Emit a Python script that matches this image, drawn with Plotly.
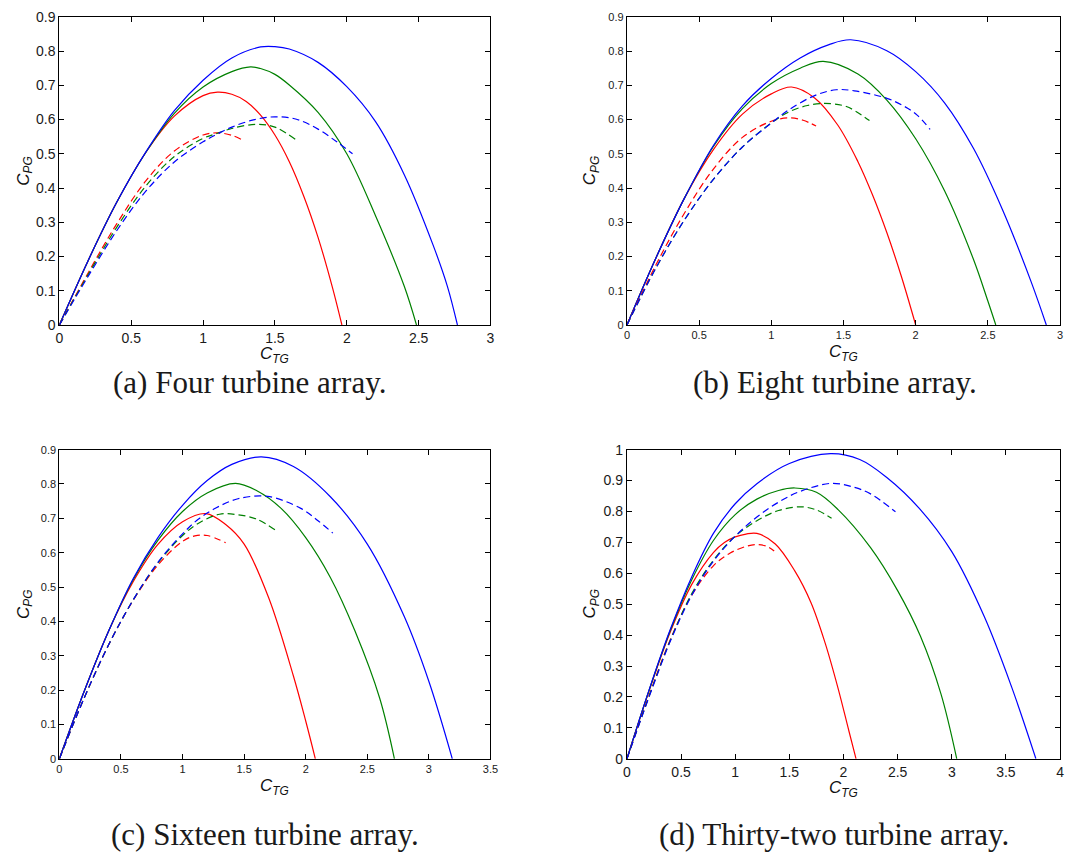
import plotly.graph_objects as go

W, H = 1072, 862

RED = "#ff0000"
GREEN = "#008000"
BLUE = "#0000ff"

# ---- (a) four turbine array ----
a_red_x = [0, 0.2, 0.4, 0.6, 0.8, 1.0, 1.1, 1.2, 1.3, 1.4, 1.5, 1.6, 1.7, 1.8, 1.9, 1.966]
a_red_y = [0, 0.188, 0.359, 0.503, 0.610, 0.670, 0.680, 0.674, 0.653, 0.613, 0.555, 0.477, 0.377, 0.256, 0.110, 0]
a_green_x = [0, 0.2, 0.4, 0.6, 0.8, 1.0, 1.2, 1.33, 1.4, 1.5, 1.6, 1.8, 2.0, 2.2, 2.4, 2.485]
a_green_y = [0, 0.188, 0.359, 0.503, 0.618, 0.695, 0.740, 0.754, 0.749, 0.732, 0.701, 0.621, 0.500, 0.319, 0.113, 0]
a_blue_x = [0, 0.2, 0.4, 0.6, 0.8, 1.0, 1.2, 1.4, 1.5, 1.6, 1.8, 2.0, 2.2, 2.4, 2.6, 2.7, 2.77]
a_blue_y = [0, 0.188, 0.359, 0.504, 0.626, 0.715, 0.780, 0.812, 0.813, 0.806, 0.767, 0.696, 0.594, 0.439, 0.234, 0.113, 0]
a_red_dash_x = [0, 0.2, 0.4, 0.6, 0.8, 1.0, 1.1, 1.2, 1.29]
a_red_dash_y = [0, 0.152, 0.296, 0.420, 0.508, 0.555, 0.561, 0.554, 0.537]
a_green_dash_x = [0, 0.2, 0.4, 0.6, 0.8, 1.0, 1.1, 1.2, 1.37, 1.5, 1.65]
a_green_dash_y = [0, 0.147, 0.286, 0.405, 0.492, 0.545, 0.560, 0.574, 0.586, 0.578, 0.540]
a_blue_dash_x = [0, 0.2, 0.4, 0.6, 0.8, 1.0, 1.1, 1.2, 1.35, 1.5, 1.65, 1.8, 1.93, 2.04]
a_blue_dash_y = [0, 0.142, 0.276, 0.390, 0.476, 0.535, 0.558, 0.578, 0.599, 0.608, 0.601, 0.572, 0.535, 0.500]

# ---- (b) eight turbine array ----
b_red_x = [0, 0.2, 0.4, 0.6, 0.8, 1.0, 1.14, 1.3, 1.46, 1.6, 1.7, 1.8, 1.9, 2.0]
b_red_y = [0, 0.195, 0.372, 0.513, 0.616, 0.675, 0.695, 0.663, 0.584, 0.477, 0.381, 0.270, 0.143, 0]
b_green_x = [0, 0.2, 0.4, 0.6, 0.8, 1.0, 1.2, 1.36, 1.6, 1.8, 2.0, 2.2, 2.4, 2.5, 2.555]
b_green_y = [0, 0.195, 0.372, 0.522, 0.632, 0.705, 0.750, 0.770, 0.733, 0.657, 0.544, 0.392, 0.192, 0.070, 0]
b_blue_x = [0, 0.2, 0.4, 0.6, 0.8, 1.0, 1.2, 1.4, 1.55, 1.8, 2.0, 2.2, 2.4, 2.6, 2.8, 2.905]
b_blue_y = [0, 0.195, 0.372, 0.525, 0.640, 0.720, 0.780, 0.819, 0.833, 0.801, 0.740, 0.649, 0.516, 0.338, 0.126, 0]
b_red_dash_x = [0, 0.2, 0.4, 0.6, 0.8, 1.0, 1.13, 1.22, 1.31]
b_red_dash_y = [0, 0.175, 0.328, 0.456, 0.548, 0.595, 0.605, 0.598, 0.581]
b_green_dash_x = [0, 0.2, 0.4, 0.6, 0.8, 1.0, 1.12, 1.25, 1.37, 1.52, 1.68]
b_green_dash_y = [0, 0.166, 0.308, 0.426, 0.520, 0.590, 0.622, 0.641, 0.647, 0.638, 0.597]
b_blue_dash_x = [0, 0.2, 0.4, 0.6, 0.8, 1.0, 1.12, 1.3, 1.45, 1.575, 1.8, 1.92, 2.01, 2.1]
b_blue_dash_y = [0, 0.166, 0.308, 0.426, 0.520, 0.590, 0.628, 0.670, 0.687, 0.684, 0.662, 0.639, 0.613, 0.571]

# ---- (c) sixteen turbine array ----
c_red_x = [0, 0.2, 0.4, 0.6, 0.8, 1.0, 1.19, 1.35, 1.5, 1.7, 1.9, 2.0, 2.078]
c_red_y = [0, 0.195, 0.372, 0.516, 0.624, 0.690, 0.714, 0.682, 0.625, 0.468, 0.241, 0.110, 0]
c_green_x = [0, 0.2, 0.4, 0.6, 0.8, 1.0, 1.2, 1.43, 1.6, 1.8, 2.0, 2.2, 2.4, 2.6, 2.72]
c_green_y = [0, 0.195, 0.372, 0.522, 0.636, 0.720, 0.774, 0.802, 0.781, 0.729, 0.644, 0.528, 0.372, 0.177, 0]
c_blue_x = [0, 0.2, 0.4, 0.6, 0.8, 1.0, 1.2, 1.4, 1.64, 1.9, 2.2, 2.5, 2.8, 3.0, 3.19]
c_blue_y = [0, 0.195, 0.372, 0.525, 0.644, 0.738, 0.810, 0.857, 0.879, 0.851, 0.763, 0.625, 0.414, 0.225, 0]
c_red_dash_x = [0, 0.2, 0.4, 0.6, 0.8, 1.0, 1.1, 1.2, 1.35]
c_red_dash_y = [0, 0.176, 0.332, 0.462, 0.564, 0.633, 0.649, 0.650, 0.629]
c_green_dash_x = [0, 0.2, 0.4, 0.6, 0.8, 1.0, 1.13, 1.3, 1.44, 1.6, 1.75]
c_green_dash_y = [0, 0.176, 0.332, 0.463, 0.570, 0.650, 0.686, 0.712, 0.711, 0.698, 0.667]
c_blue_dash_x = [0, 0.2, 0.4, 0.6, 0.8, 1.0, 1.13, 1.27, 1.45, 1.69, 1.96, 2.1, 2.22]
c_blue_dash_y = [0, 0.176, 0.332, 0.463, 0.572, 0.655, 0.698, 0.730, 0.757, 0.764, 0.729, 0.693, 0.657]

# ---- (d) thirty-two turbine array ----
d_red_x = [0, 0.2, 0.4, 0.6, 0.8, 0.9, 1.0, 1.1, 1.2, 1.37, 1.55, 1.7, 1.83, 1.95, 2.05, 2.116]
d_red_y = [0, 0.215, 0.410, 0.565, 0.668, 0.700, 0.718, 0.727, 0.729, 0.695, 0.608, 0.505, 0.375, 0.228, 0.090, 0]
d_green_x = [0, 0.2, 0.4, 0.6, 0.8, 1.0, 1.2, 1.4, 1.55, 1.75, 1.95, 2.25, 2.5, 2.71, 2.9, 3.046]
d_green_y = [0, 0.217, 0.415, 0.580, 0.707, 0.790, 0.840, 0.868, 0.876, 0.862, 0.806, 0.683, 0.544, 0.397, 0.210, 0]
d_blue_x = [0, 0.2, 0.4, 0.6, 0.8, 1.0, 1.2, 1.5, 1.88, 2.15, 2.4, 2.7, 3.0, 3.3, 3.55, 3.777]
d_blue_y = [0, 0.218, 0.418, 0.590, 0.730, 0.825, 0.890, 0.955, 0.987, 0.968, 0.910, 0.810, 0.670, 0.460, 0.235, 0]
d_red_dash_x = [0, 0.2, 0.4, 0.6, 0.8, 0.95, 1.1, 1.21, 1.3, 1.36]
d_red_dash_y = [0, 0.200, 0.385, 0.530, 0.625, 0.665, 0.687, 0.693, 0.686, 0.672]
d_green_dash_x = [0, 0.2, 0.4, 0.6, 0.8, 1.0, 1.2, 1.4, 1.61, 1.75, 1.89]
d_green_dash_y = [0, 0.198, 0.383, 0.535, 0.643, 0.720, 0.770, 0.803, 0.815, 0.805, 0.778]
d_blue_dash_x = [0, 0.2, 0.4, 0.6, 0.8, 1.0, 1.2, 1.4, 1.6, 1.89, 2.1, 2.25, 2.48]
d_blue_dash_y = [0, 0.196, 0.380, 0.530, 0.640, 0.720, 0.782, 0.830, 0.865, 0.891, 0.878, 0.857, 0.799]

captions = [
    "(a) Four turbine array.",
    "(b) Eight turbine array.",
    "(c) Sixteen turbine array.",
    "(d) Thirty-two turbine array.",
]
x_ranges = [3, 3, 3.5, 4]
y_ranges = [0.9, 0.9, 0.9, 1.0]

panel_curves = [
    [(a_red_x, a_red_y, RED, "solid"), (a_green_x, a_green_y, GREEN, "solid"), (a_blue_x, a_blue_y, BLUE, "solid"),
     (a_red_dash_x, a_red_dash_y, RED, "dash"), (a_green_dash_x, a_green_dash_y, GREEN, "dash"),
     (a_blue_dash_x, a_blue_dash_y, BLUE, "dash")],
    [(b_red_x, b_red_y, RED, "solid"), (b_green_x, b_green_y, GREEN, "solid"), (b_blue_x, b_blue_y, BLUE, "solid"),
     (b_red_dash_x, b_red_dash_y, RED, "dash"), (b_green_dash_x, b_green_dash_y, GREEN, "dash"),
     (b_blue_dash_x, b_blue_dash_y, BLUE, "dash")],
    [(c_red_x, c_red_y, RED, "solid"), (c_green_x, c_green_y, GREEN, "solid"), (c_blue_x, c_blue_y, BLUE, "solid"),
     (c_red_dash_x, c_red_dash_y, RED, "dash"), (c_green_dash_x, c_green_dash_y, GREEN, "dash"),
     (c_blue_dash_x, c_blue_dash_y, BLUE, "dash")],
    [(d_red_x, d_red_y, RED, "solid"), (d_green_x, d_green_y, GREEN, "solid"), (d_blue_x, d_blue_y, BLUE, "solid"),
     (d_red_dash_x, d_red_dash_y, RED, "dash"), (d_green_dash_x, d_green_dash_y, GREEN, "dash"),
     (d_blue_dash_x, d_blue_dash_y, BLUE, "dash")],
]

# plot boxes in pixels: (left, right, top, bottom)
boxes = [(56, 492, 9, 323), (630, 1068, 9, 323), (56, 492, 450, 765), (630, 1068, 450, 765)]
tick_sizes = [14, 11, 11, 14]
caption_pos = [(248, 382), (840, 382), (264, 842), (839, 842)]
ytitle_x = [21, 594, 21, 594]
xtitle_dy = [31, 29, 29, 31]

SANS = "Liberation Sans, Arial, sans-serif"
SERIF = "Liberation Serif, Times New Roman, serif"


def fx(px):
    return px / W


def fy(py):
    return 1 - py / H


fig = go.Figure()
annotations = []
layout_axes = {}

for i in range(4):
    n = "" if i == 0 else str(i + 1)
    xa, ya = "x" + n, "y" + n
    for xs, ys, color, dash in panel_curves[i]:
        fig.add_trace(go.Scatter(
            x=xs, y=ys, mode="lines", xaxis=xa, yaxis=ya, showlegend=False,
            line=dict(color=color, width=1.2, shape="spline", smoothing=1.0,
                      dash="solid" if dash == "solid" else "7px,4px"),
            hoverinfo="skip",
        ))
    l, r, t, b = boxes[i]
    axis_common = dict(
        showline=True, linecolor="black", linewidth=1.2, mirror="ticks",
        ticks="inside", ticklen=5, tickcolor="black", tickwidth=1,
        showgrid=False, zeroline=False,
        tickfont=dict(family=SANS, size=tick_sizes[i], color="#1a1a1a"),
    )
    layout_axes["xaxis" + n] = dict(
        axis_common, domain=[fx(l), fx(r)], range=[0, x_ranges[i]], dtick=0.5,
        anchor=ya, tick0=0,
    )
    layout_axes["yaxis" + n] = dict(
        axis_common, domain=[fy(b), fy(t)], range=[0, y_ranges[i]], dtick=0.1,
        anchor=xa, tick0=0,
    )
    label_font = dict(family=SANS, size=17, color="#111111")
    annotations.append(dict(
        text="<i>C</i><sub><i>TG</i></sub>", x=fx((l + r) / 2), y=fy(b + xtitle_dy[i]),
        xref="paper", yref="paper", xanchor="center", yanchor="middle",
        showarrow=False, font=label_font, borderpad=0,
    ))
    annotations.append(dict(
        text="<i>C</i><sub><i>PG</i></sub>", x=fx(ytitle_x[i]), y=fy((t + b) / 2),
        xref="paper", yref="paper", xanchor="center", yanchor="middle",
        textangle=-90, showarrow=False, font=label_font, borderpad=0,
    ))
    cx, cy = caption_pos[i]
    annotations.append(dict(
        text=captions[i], x=fx(cx), y=fy(cy), xref="paper", yref="paper",
        xanchor="center", yanchor="middle", showarrow=False, borderpad=0,
        font=dict(family=SERIF, size=31, color="#1a1a1a"),
    ))

fig.update_layout(
    width=W, height=H,
    margin=dict(l=0, r=0, t=0, b=0),
    paper_bgcolor="white", plot_bgcolor="white",
    annotations=annotations,
    **layout_axes,
)

fig.write_html("out.html")
